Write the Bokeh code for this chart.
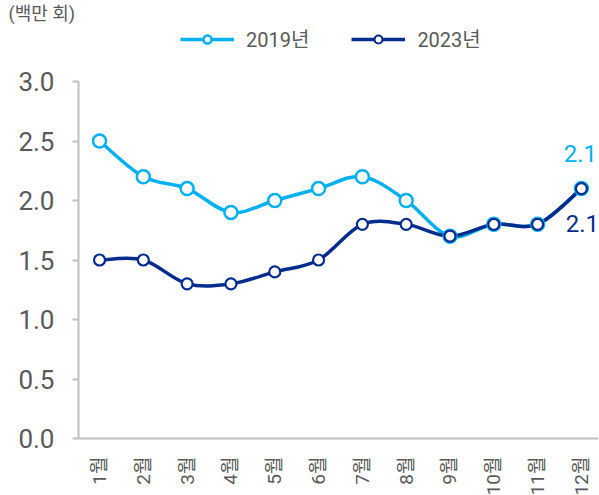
import math
from bokeh.plotting import figure
from bokeh.models import (Range1d, FixedTicker, Legend, LegendItem, Label, ColumnDataSource,
                          CustomJSTickFormatter)
from bokeh.embed import file_html
from bokeh.resources import INLINE

months = ["1월", "2월", "3월", "4월", "5월", "6월", "7월", "8월", "9월", "10월", "11월", "12월"]
y2019 = [2.5, 2.2, 2.1, 1.9, 2.0, 2.1, 2.2, 2.0, 1.7, 1.8, 1.8, 2.1]
y2023 = [1.5, 1.5, 1.3, 1.3, 1.4, 1.5, 1.8, 1.8, 1.7, 1.8, 1.8, 2.1]
y_ticks = [0.0, 0.5, 1.0, 1.5, 2.0, 2.5, 3.0]
series_names = ["2019년", "2023년"]
unit_label = "(백만 회)"

C19 = "#00B0F0"
C23 = "#042C8C"
GRAY = "#595959"
AXIS = "#BFBFBF"
FONT = "Roboto, 'Noto Sans CJK KR'"

xs = list(range(1, len(months) + 1))

FH = 415          # frame height in px
TOP_PAD = 58      # px between frame top and the 3.0 tick
y_top = y_ticks[-1] * FH / (FH - TOP_PAD)


def bezier_source(x, y):
    n = len(x)
    d = dict(x0=[], y0=[], x1=[], y1=[], cx0=[], cy0=[], cx1=[], cy1=[])
    for i in range(n - 1):
        p0 = (x[max(i - 1, 0)], y[max(i - 1, 0)])
        p1 = (x[i], y[i])
        p2 = (x[i + 1], y[i + 1])
        p3 = (x[min(i + 2, n - 1)], y[min(i + 2, n - 1)])
        d["x0"].append(p1[0]); d["y0"].append(p1[1])
        d["x1"].append(p2[0]); d["y1"].append(p2[1])
        d["cx0"].append(p1[0] + (p2[0] - p0[0]) / 6)
        d["cy0"].append(p1[1] + (p2[1] - p0[1]) / 6)
        d["cx1"].append(p2[0] - (p3[0] - p1[0]) / 6)
        d["cy1"].append(p2[1] - (p3[1] - p1[1]) / 6)
    return ColumnDataSource(d)


p = figure(frame_width=520, frame_height=FH, output_backend="svg", toolbar_location=None,
           x_range=Range1d(0.52, 12.39), y_range=Range1d(0, y_top),
           min_border_left=78, min_border_right=0, min_border_top=0, min_border_bottom=0)
p.outline_line_color = None
p.grid.visible = False

r19 = p.bezier(x0="x0", y0="y0", x1="x1", y1="y1", cx0="cx0", cy0="cy0", cx1="cx1", cy1="cy1",
               source=bezier_source(xs, y2019), line_color=C19, line_width=3.5)
r23 = p.bezier(x0="x0", y0="y0", x1="x1", y1="y1", cx0="cx0", cy0="cy0", cx1="cx1", cy1="cy1",
               source=bezier_source(xs, y2023), line_color=C23, line_width=3.5)
s19 = p.scatter(xs, y2019, size=13, fill_color="white", line_color=C19, line_width=2.5)
s23 = p.scatter(xs, y2023, size=11, fill_color="white", line_color=C23, line_width=2.2)

# title (unit)
p.title.text = unit_label
p.title.align = "left"
p.title.offset = -70
p.title.standoff = 0
p.title.text_font = FONT
p.title.text_font_size = "18px"
p.title.text_font_style = "normal"
p.title.text_color = GRAY

# axes
yax = p.yaxis[0]
yax.ticker = FixedTicker(ticks=y_ticks)
yax.bounds = (y_ticks[0], y_ticks[-1])
yax.formatter = CustomJSTickFormatter(code="return tick.toFixed(1);")
yax.axis_line_color = AXIS
yax.axis_line_width = 2
yax.major_tick_line_color = AXIS
yax.major_tick_line_width = 2
yax.major_tick_out = 6
yax.major_tick_in = 0
yax.minor_tick_line_color = None
yax.major_label_text_font = FONT
yax.major_label_text_font_size = "26px"
yax.major_label_text_color = GRAY
yax.major_label_standoff = 18

xax = p.xaxis[0]
xax.ticker = FixedTicker(ticks=xs)
xax.major_label_overrides = {i: m for i, m in zip(xs, months)}
xax.axis_line_color = AXIS
xax.axis_line_width = 2
xax.major_tick_line_color = None
xax.minor_tick_line_color = None
xax.major_label_orientation = math.pi / 2
xax.major_label_text_font = FONT
xax.major_label_text_font_size = "19px"
xax.major_label_text_color = GRAY
xax.major_label_standoff = 12

legend = Legend(items=[LegendItem(label=series_names[0], renderers=[r19, s19]),
                       LegendItem(label=series_names[1], renderers=[r23, s23])],
                orientation="horizontal", location=(102, FH - 30),
                border_line_color=None, background_fill_alpha=0,
                glyph_width=54, glyph_height=20, label_standoff=12, spacing=42,
                padding=0, margin=0,
                label_text_font=FONT, label_text_font_size="20px", label_text_color=GRAY)
p.add_layout(legend, "center")

p.add_layout(Label(x=12, y=2.1, text="2.1", x_offset=-1, y_offset=35, text_align="center",
                   text_baseline="middle", text_font=FONT, text_font_size="24px", text_color=C19))
p.add_layout(Label(x=12, y=2.1, text="2.1", x_offset=1, y_offset=-35, text_align="center",
                   text_baseline="middle", text_font=FONT, text_font_size="24px", text_color=C23))

open("out.html", "w").write(file_html(p, INLINE))
